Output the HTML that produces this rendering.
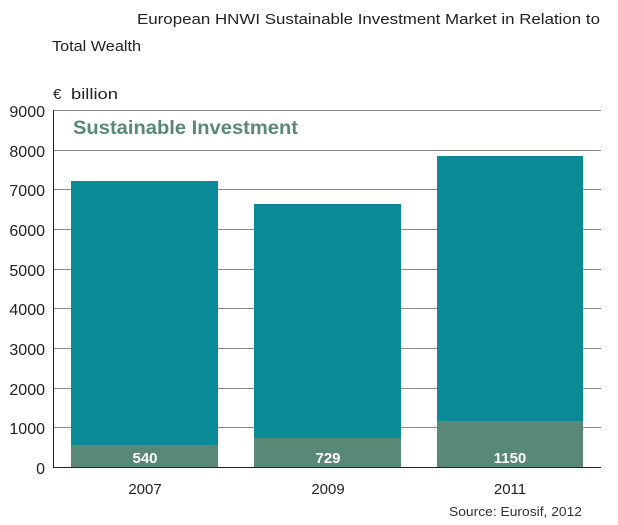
<html><head><style>body{margin:0;background:#fff;font-family:"Liberation Sans",sans-serif}</style></head><body>
<svg width="618" height="525" xmlns="http://www.w3.org/2000/svg" font-family="Liberation Sans, sans-serif">
<text x="137" y="24" font-size="15" fill="#222" textLength="463" lengthAdjust="spacingAndGlyphs">European HNWI Sustainable Investment Market in Relation to</text>
<text x="52" y="51" font-size="15" fill="#222" textLength="89" lengthAdjust="spacingAndGlyphs">Total Wealth</text>
<text x="53" y="99" font-size="15" fill="#222">€</text>
<text x="71" y="99" font-size="15" fill="#222" textLength="47" lengthAdjust="spacingAndGlyphs">billion</text>
<g stroke="#888" stroke-width="1">
<line x1="53" y1="110.5" x2="601" y2="110.5"/>
<line x1="53" y1="150.5" x2="601" y2="150.5"/>
<line x1="53" y1="189.5" x2="601" y2="189.5"/>
<line x1="53" y1="229.5" x2="601" y2="229.5"/>
<line x1="53" y1="269.5" x2="601" y2="269.5"/>
<line x1="53" y1="308.5" x2="601" y2="308.5"/>
<line x1="53" y1="348.5" x2="601" y2="348.5"/>
<line x1="53" y1="388.5" x2="601" y2="388.5"/>
<line x1="53" y1="427.5" x2="601" y2="427.5"/>
</g>
<g fill="#0a8a96">
<rect x="71" y="181" width="147" height="286"/>
<rect x="254" y="204" width="147" height="263"/>
<rect x="437" y="156" width="146" height="311"/>
</g>
<g fill="#5a8878">
<rect x="71" y="445" width="147" height="22"/>
<rect x="254" y="438" width="147" height="29"/>
<rect x="437" y="421" width="146" height="46"/>
</g>
<line x1="53" y1="467.5" x2="601" y2="467.5" stroke="#222"/>
<line x1="53.5" y1="110" x2="53.5" y2="468" stroke="#222"/>
<g font-size="16" fill="#222" text-anchor="end">
<text x="45" y="117">9000</text><text x="45" y="157">8000</text><text x="45" y="196">7000</text>
<text x="45" y="236">6000</text><text x="45" y="276">5000</text><text x="45" y="315">4000</text>
<text x="45" y="355">3000</text><text x="45" y="395">2000</text><text x="45" y="434">1000</text>
<text x="45" y="474">0</text></g>
<text x="73" y="134" font-size="19" font-weight="bold" fill="#5a8878" textLength="225" lengthAdjust="spacingAndGlyphs">Sustainable Investment</text>
<g font-size="15" font-weight="bold" fill="#fff" text-anchor="middle">
<text x="145" y="463">540</text><text x="328" y="463">729</text><text x="510" y="463">1150</text></g>
<g font-size="15" fill="#222" text-anchor="middle">
<text x="145" y="494">2007</text><text x="328" y="494">2009</text><text x="510" y="494">2011</text></g>
<text x="449" y="516" font-size="13" fill="#333" textLength="133" lengthAdjust="spacingAndGlyphs">Source: Eurosif, 2012</text>
</svg></body></html>
